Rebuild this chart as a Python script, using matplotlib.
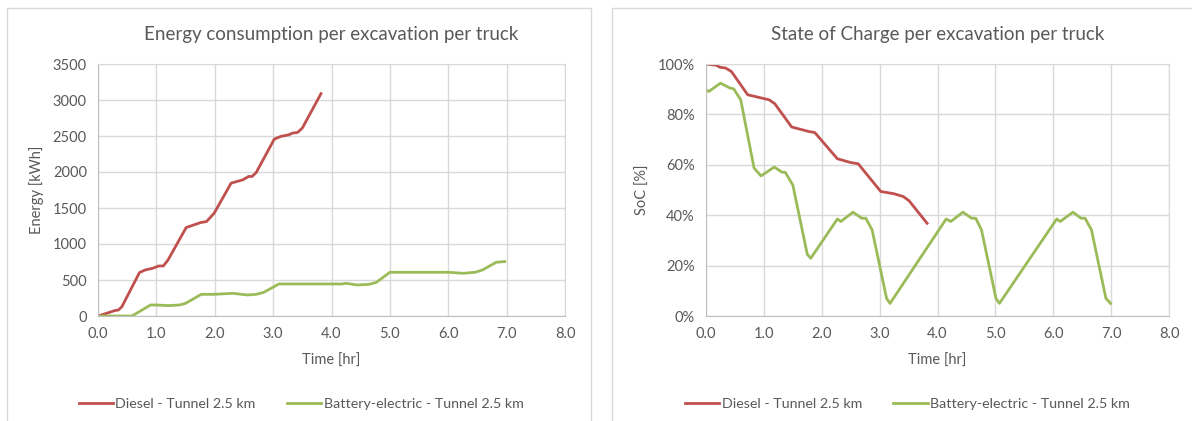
import matplotlib
matplotlib.use("Agg")
import matplotlib.pyplot as plt
from matplotlib.patches import Rectangle
from matplotlib.ticker import FuncFormatter, MultipleLocator

plt.rcParams["font.family"] = ["Lato", "DejaVu Sans"]

# ---------------------------------------------------------------------------
# Data
# ---------------------------------------------------------------------------

diesel_e_t = [0.0, 0.18, 0.28, 0.35, 0.41, 0.71, 0.81, 0.94, 1.04, 1.12, 1.20,
              1.51, 1.76, 1.86, 1.99, 2.28, 2.48, 2.58, 2.64, 2.71, 3.02, 3.13,
              3.27, 3.33, 3.42, 3.50, 3.82]
diesel_e = [0, 46, 74, 83, 130, 603, 640, 663, 695, 695, 779,
            1228, 1298, 1312, 1428, 1845, 1891, 1938, 1938, 1993, 2457, 2494,
            2517, 2540, 2550, 2610, 3088]

battery_e_t = [0.0, 0.58, 0.64, 0.90, 1.00, 1.20, 1.40, 1.50, 1.77, 1.99, 2.31,
               2.56, 2.71, 2.84, 3.10, 4.18, 4.25, 4.44, 4.64, 4.77, 5.00, 6.00,
               6.26, 6.46, 6.59, 6.82, 6.97]
battery_e = [0, 0, 28, 153, 153, 144, 153, 176, 301, 301, 315,
             292, 301, 329, 445, 445, 454, 431, 440, 468, 607, 607,
             593, 607, 640, 746, 756]

diesel_soc_t = [0.0, 0.18, 0.24, 0.34, 0.44, 0.72, 0.96, 1.09, 1.19, 1.48, 1.78,
                1.88, 2.27, 2.50, 2.63, 3.02, 3.25, 3.35, 3.41, 3.51, 3.82]
diesel_soc = [100, 99.5, 98.7, 98.4, 97, 87.8, 86.5, 85.8, 84.2, 75, 73.2,
              72.8, 62.4, 60.9, 60.4, 49.4, 48.5, 47.8, 47.4, 45.7, 36.8]

battery_soc_t = [0.0, 0.05, 0.25, 0.41, 0.48, 0.60, 0.83, 0.95, 1.18, 1.31, 1.37,
                 1.50, 1.75, 1.81, 2.27, 2.33, 2.54, 2.69, 2.76, 2.87, 3.12, 3.18,
                 4.15, 4.23, 4.44, 4.59, 4.66, 4.76, 5.01, 5.07,
                 6.06, 6.12, 6.34, 6.48, 6.55, 6.66, 6.91, 6.99]
battery_soc = [89.8, 89.1, 92.4, 90.5, 90.1, 85.8, 58.7, 55.6, 59.1, 57.1, 57,
               52, 24.5, 22.9, 38.5, 37.5, 41.2, 38.8, 38.8, 34.2, 7, 5,
               38.5, 37.5, 41.2, 38.8, 38.8, 34.2, 7, 5,
               38.5, 37.5, 41.2, 38.8, 38.8, 34.2, 7, 5]

labels = ["Diesel - Tunnel 2.5 km", "Battery-electric - Tunnel 2.5 km"]

RED = "#C0504D"
GREEN = "#9BBB59"
TEXT = "#595959"
GRID = "#D9D9D9"

# ---------------------------------------------------------------------------
# Figure
# ---------------------------------------------------------------------------

W, H = 1192, 421
fig = plt.figure(figsize=(W / 100, H / 100), dpi=100)


def px_axes(x0, y0, x1, y1):
    return fig.add_axes([x0 / W, 1 - y1 / H, (x1 - x0) / W, (y1 - y0) / H])


def panel(x0, y0, x1, y1):
    fig.patches.append(Rectangle((x0 / W, 1 - y1 / H), (x1 - x0) / W, (y1 - y0) / H,
                                 transform=fig.transFigure, fill=False,
                                 edgecolor=GRID, linewidth=1))


def style(ax, title, ylabel):
    ax.set_xlim(0, 8)
    ax.xaxis.set_major_locator(MultipleLocator(1))
    ax.xaxis.set_major_formatter(FuncFormatter(lambda v, _: f"{v:.1f}"))
    ax.grid(True, color=GRID, linewidth=1)
    ax.set_axisbelow(True)
    for s in ax.spines.values():
        s.set_color(GRID)
    ax.spines["bottom"].set_color("#BFBFBF")
    ax.spines["left"].set_color("#BFBFBF")
    ax.tick_params(length=0, colors=TEXT, labelsize=10.5, pad=8)
    ax.set_title(title, color=TEXT, fontsize=13.5, pad=17)
    ax.set_xlabel("Time [hr]", color=TEXT, fontsize=10.5, labelpad=9)
    ax.set_ylabel(ylabel, color=TEXT, fontsize=10.5, labelpad=6)
    ax.legend(labels, loc="center", bbox_to_anchor=(0.435, -0.35), ncol=2,
              frameon=False, fontsize=10.3, handlelength=2.4, handletextpad=0.15,
              columnspacing=2.2, labelcolor=TEXT)


panel(7, 8, 591, 440)
panel(612, 8, 1220, 440)

# Energy
ax1 = px_axes(98, 64, 565, 316)
ax1.plot(diesel_e_t, diesel_e, color=RED, linewidth=2)
ax1.plot(battery_e_t, battery_e, color=GREEN, linewidth=2)
ax1.set_ylim(0, 3500)
ax1.yaxis.set_major_locator(MultipleLocator(500))
style(ax1, "Energy consumption per excavation per truck", "Energy [kWh]")

# State of charge
ax2 = px_axes(706, 64, 1169, 316)
ax2.plot(diesel_soc_t, diesel_soc, color=RED, linewidth=2)
ax2.plot(battery_soc_t, battery_soc, color=GREEN, linewidth=2)
ax2.set_ylim(0, 100)
ax2.yaxis.set_major_locator(MultipleLocator(20))
ax2.yaxis.set_major_formatter(FuncFormatter(lambda v, _: f"{v:.0f}%"))
style(ax2, "State of Charge per excavation per truck", "SoC [%]")

fig.savefig("out.png", dpi=100)
